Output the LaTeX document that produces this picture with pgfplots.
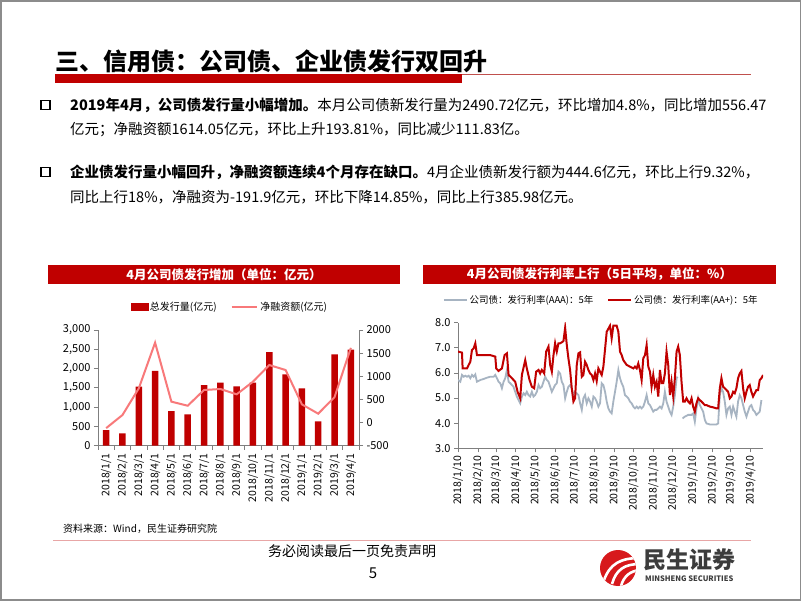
\documentclass[border=0pt]{standalone}
\usepackage{fontspec}
\setmainfont{Noto Sans CJK SC}
\usepackage{pgfplots}
\pgfplotsset{compat=1.18}
\definecolor{bred}{HTML}{C00000}
\definecolor{pinkl}{HTML}{F8797A}
\definecolor{grayl}{HTML}{A7B4C2}
\definecolor{axgray}{HTML}{7F7F7F}
\definecolor{framec}{HTML}{8C8C8C}
\definecolor{thinred}{HTML}{C0504D}
\definecolor{pinkrule}{HTML}{E8A6A6}
\definecolor{logored}{HTML}{D7191C}
\definecolor{logotext}{HTML}{3C3C3C}
\newcommand{\fs}[1]{\fontsize{#1}{#1}\selectfont}
\begin{document}
\begin{tikzpicture}[x=1pt,y=1pt]
\useasboundingbox (0,0) rectangle (802,602);
\fill[white] (0,0) rectangle (802,602);
\draw[framec, line width=1.2pt] (1,2) rectangle (800.5,601);
% title
\node[anchor=west, inner sep=0] at (55,541) {\fs{24}\bfseries 三、信用债：公司债、企业债发行双回升};
\fill[bred] (55,519) rectangle (462,528);
\draw[thinred, line width=1.2pt] (462,527.5) -- (751,527.5);
% bullets
\draw[line width=1.6pt] (41,492.5) rectangle (50,501.5);
\node[anchor=west, inner sep=0] at (70,497) {\fs{14.5}\bfseries 2019年4月，公司债发行量小幅增加。\mdseries 本月公司债新发行量为2490.72亿元，环比增加4.8\%，同比增加556.47};
\node[anchor=west, inner sep=0] at (70,472) {\fs{14.5}亿元；净融资额1614.05亿元，环比上升193.81\%，同比减少111.83亿。};
\draw[line width=1.6pt] (41,425.5) rectangle (50,434.5);
\node[anchor=west, inner sep=0] at (70,430) {\fs{14.5}\bfseries 企业债发行量小幅回升，净融资额连续4个月存在缺口。\mdseries 4月企业债新发行额为444.6亿元，环比上行9.32\%，};
\node[anchor=west, inner sep=0] at (70,405) {\fs{14.5}同比上行18\%，净融资为-191.9亿元，环比下降14.85\%，同比上行385.98亿元。};
% chart title bars
\fill[bred] (48,318) rectangle (400,337);
\node[white] at (224,327.5) {\fs{12.5}\bfseries 4月公司债发行增加（单位：亿元）};
\fill[bred] (423,318) rectangle (776,337);
\node[white] at (599.5,327.5) {\fs{12.5}\bfseries 4月公司债发行利率上行（5日平均，单位：\%）};
% left chart
\begin{axis}[at={(98pt,156.3pt)}, anchor=south west, scale only axis,
  width=261pt, height=115.7pt,
  xmin=-0.5, xmax=15.5, ymin=0, ymax=3000,
  axis y line*=left, axis x line*=bottom,
  axis line style={axgray, line width=0.8pt},
  tick align=outside, tick style={axgray, line width=0.8pt},
  major tick length=4pt, minor tick length=4pt,
  ytick={0,500,...,3000},
  xtick={0,...,15},
  xticklabels={2018/1/1,2018/2/1,2018/3/1,2018/4/1,2018/5/1,2018/6/1,2018/7/1,2018/8/1,2018/9/1,2018/10/1,2018/11/1,2018/12/1,2019/1/1,2019/2/1,2019/3/1,2019/4/1},
  major x tick style={draw=none},
  minor xtick={-0.5,0.5,...,15.5},
  x tick label style={rotate=90, anchor=east, font=\fs{10.5}},
  y tick label style={font=\fs{11}},
  /pgf/number format/assume math mode=true,
  /pgf/number format/1000 sep={,},
  ybar, bar width=6.5pt,
]
\addplot[fill=bred, draw=none] coordinates {
(0,406) (1,320) (2,1530) (3,1937) (4,899) (5,813) (6,1573) (7,1634)
(8,1539) (9,1634) (10,2429) (11,1850) (12,1487) (13,631) (14,2369) (15,2491)};
\end{axis}
\begin{axis}[at={(98pt,156.3pt)}, anchor=south west, scale only axis,
  width=261pt, height=115.7pt,
  xmin=-0.5, xmax=15.5, ymin=-500, ymax=2000,
  axis y line*=right, axis x line=none,
  axis line style={axgray, line width=0.8pt},
  tick align=outside, tick style={axgray, line width=0.8pt},
  major tick length=4pt,
  ytick={-500,0,...,2000},
  y tick label style={font=\fs{11}},
  /pgf/number format/assume math mode=true,
  /pgf/number format/1000 sep={},
  legend columns=2,
  legend style={at={(0.505,1)}, anchor=south, yshift=14pt, draw=none, fill=none,
    font=\fs{10}, /tikz/every even column/.append style={column sep=12pt}},
]
\addlegendimage{legend image code/.code={\fill[bred] (0cm,-0.12cm) rectangle (0.6cm,0.12cm);}}
\addlegendentry{总发行量(亿元)}
\addplot[pinkl, line width=2pt, legend image code/.code={\draw[pinkl, line width=2pt] (0cm,0cm) -- (0.9cm,0cm);}] coordinates {
(0,-120) (1,163) (2,739) (3,1726) (4,451) (5,364) (6,703) (7,725)
(8,610) (9,883) (10,1243) (11,1135) (12,393) (13,192) (14,549) (15,1614)};
\addlegendentry{净融资额(亿元)}
\end{axis}
% right chart
\begin{axis}[at={(458pt,153.7pt)}, anchor=south west, scale only axis,
  width=305pt, height=125.6pt,
  xmin=0, xmax=474.6, ymin=3, ymax=8,
  axis y line*=left, axis x line*=bottom,
  axis line style={axgray, line width=0.8pt},
  tick align=outside, tick style={axgray, line width=0.8pt},
  major tick length=4pt,
  ytick={3,4,...,8},
  yticklabel style={font=\fs{11}, /pgf/number format/.cd, fixed, fixed zerofill, precision=1},
  xtick={0,31,59,90,120,151,181,212,243,273,304,334,365,396,424,455},
  xticklabels={2018/1/10,2018/2/10,2018/3/10,2018/4/10,2018/5/10,2018/6/10,2018/7/10,2018/8/10,2018/9/10,2018/10/10,2018/11/10,2018/12/10,2019/1/10,2019/2/10,2019/3/10,2019/4/10},
  x tick label style={rotate=90, anchor=east, font=\fs{10.5}},
  /pgf/number format/assume math mode=true,
  unbounded coords=jump,
  legend columns=2,
  legend style={at={(0.47,1)}, anchor=south, yshift=14pt, draw=none, fill=none,
    font=\fs{9.5}, /tikz/every even column/.append style={column sep=12pt}},
]
\addplot[grayl, line width=1.8pt, legend image code/.code={\draw[grayl, line width=1.8pt] (0cm,0cm) -- (0.8cm,0cm);}] table {
x y
0 5.72
3.6 5.65
6.2 5.92
8.8 5.85
11.4 5.89
14.0 5.85
16.6 5.89
19.2 5.79
21.7 5.92
24.3 5.85
26.9 5.94
29.5 5.65
34.7 5.72
39.9 5.76
45.0 5.81
50.2 5.85
55.4 5.85
58.0 5.92
60.6 5.79
63.1 5.65
65.7 5.59
68.3 5.39
70.9 5.65
73.5 5.79
76.1 6.12
78.7 5.65
81.3 5.59
83.9 5.52
86.4 5.45
89.0 5.25
91.6 5.06
94.2 4.92
96.8 4.79
99.4 5.06
102.0 5.19
104.6 5.12
107.1 5.25
109.7 5.12
112.3 5.06
114.9 5.25
117.5 5.06
120.1 5.12
122.7 5.25
125.3 5.52
127.8 5.39
130.4 5.45
133.0 5.65
135.6 5.85
138.2 5.72
140.8 5.65
143.4 5.45
146.0 5.25
148.6 5.39
151.1 5.52
153.7 5.59
156.3 6.05
158.9 5.98
161.5 5.65
164.1 5.52
166.7 4.99
169.3 5.25
171.8 5.45
174.4 5.52
177.0 5.39
179.6 5.12
182.2 5.25
184.8 5.19
187.4 5.12
190.0 4.79
192.6 4.53
195.1 4.99
197.7 5.12
200.3 4.79
202.9 4.99
205.5 4.86
208.1 4.66
210.7 5.06
213.3 4.99
215.8 4.86
218.4 4.66
221.0 4.79
223.6 5.59
226.2 5.52
228.8 5.25
231.4 4.86
233.9 4.59
236.5 4.46
239.1 4.39
241.7 4.86
244.3 5.25
246.9 5.65
249.5 6.12
252.1 5.79
254.7 5.59
257.2 5.45
259.8 5.12
262.4 5.06
265.0 4.99
267.6 4.86
270.2 4.79
272.8 4.66
275.4 4.59
278.0 4.66
280.5 4.59
283.1 4.66
285.7 4.59
288.3 4.66
290.9 4.86
293.5 5.12
296.1 4.79
298.7 4.72
301.2 4.59
303.8 4.46
306.4 4.53
309.0 4.53
311.6 4.59
314.2 4.66
316.8 4.59
319.4 4.79
321.9 5.25
324.5 4.86
327.1 4.66
329.7 4.46
332.3 4.33
334.9 4.66
337.5 5.12
340.1 5.79
341.6 5.85
345.0 nan
349.4 4.19
353.0 4.26
358.2 4.33
363.4 4.33
365.9 4.39
368.5 4.06
371.1 4.59
373.7 4.99
376.3 4.72
378.9 4.59
381.5 4.46
384.1 4.13
386.7 3.99
391.8 3.95
397.0 3.95
402.2 3.95
404.8 3.99
407.4 5.12
409.9 5.39
412.5 5.25
415.1 4.86
417.7 4.33
420.3 4.59
422.9 4.66
425.5 4.33
428.1 4.66
430.6 4.46
433.2 4.26
435.8 4.86
438.4 5.12
441.0 4.99
443.6 4.72
446.2 4.46
448.8 4.26
451.3 4.46
453.9 4.66
456.5 4.72
459.1 4.53
461.7 4.46
464.3 4.33
466.9 4.39
469.5 4.46
472.1 4.92
};
\addlegendentry{公司债：发行利率(AAA)：5年}
\addplot[bred, line width=2pt, legend image code/.code={\draw[bred, line width=2pt] (0cm,0cm) -- (0.8cm,0cm);}] table {
x y
0 6.85
6.2 6.81
7.2 6.18
14.0 6.18
16.6 6.32
19.2 6.45
21.7 6.91
24.3 6.98
26.9 7.18
29.5 6.71
50.2 6.71
58.0 6.65
59.5 6.18
63.1 6.08
68.3 6.18
72.5 6.71
76.1 6.78
78.7 5.92
83.9 5.79
89.0 5.65
92.7 5.25
96.8 4.99
99.4 5.92
104.6 6.51
107.1 6.18
111.3 5.72
114.9 5.45
118.5 5.39
121.6 6.05
125.3 6.12
127.8 5.98
130.4 6.12
134.1 5.98
137.2 6.85
140.8 7.05
143.4 6.32
146.0 6.05
148.6 6.71
151.1 7.18
153.7 6.85
156.3 7.18
158.9 7.18
161.5 7.22
164.1 7.27
166.7 7.80
169.3 7.11
171.8 6.58
174.4 6.12
177.0 5.39
179.6 4.86
182.2 4.99
184.8 6.32
187.4 6.78
190.0 6.82
192.6 5.85
195.1 5.92
197.7 6.45
200.3 6.32
202.9 6.12
205.5 5.98
208.1 5.92
210.7 5.72
213.3 5.98
215.8 5.68
218.4 6.18
221.0 6.05
223.6 5.92
226.2 6.25
231.4 7.64
236.5 7.88
239.1 7.38
241.7 7.88
246.9 7.88
249.5 7.64
252.1 6.85
254.7 6.71
257.2 6.51
262.4 6.32
267.6 6.25
272.8 6.18
275.4 6.25
278.0 6.18
280.5 6.38
283.1 6.12
285.7 5.72
288.3 6.58
290.9 6.71
293.5 7.11
296.1 6.25
298.7 6.05
301.2 5.45
303.8 5.92
306.4 5.45
309.0 5.65
311.6 5.06
314.2 6.12
316.8 5.59
319.4 5.59
321.9 5.98
324.5 6.85
327.1 6.32
329.7 5.12
332.3 5.65
334.9 5.06
337.5 5.79
340.1 6.85
342.6 7.05
345.2 6.71
347.8 5.65
350.4 4.86
353.0 4.86
355.6 4.99
358.2 4.86
360.8 4.79
363.4 4.99
365.9 4.66
368.5 4.46
371.1 4.79
373.7 4.99
376.3 4.92
378.9 4.86
381.5 4.79
384.1 4.72
386.7 4.72
391.8 4.66
397.0 4.63
402.2 4.59
404.8 4.59
407.4 5.39
409.9 5.79
412.5 5.45
415.1 5.39
417.7 5.32
420.3 5.25
422.9 4.99
425.5 5.06
428.1 5.25
430.6 5.19
433.2 5.39
435.8 5.79
438.4 5.98
441.0 6.08
443.6 5.39
446.2 4.99
448.8 5.25
451.3 5.45
453.9 5.52
456.5 5.25
459.1 5.06
461.7 5.19
464.3 5.32
466.9 5.32
469.5 5.72
472.1 5.79
474.6 5.92
};
\addlegendentry{公司债：发行利率(AA+)：5年}
\end{axis}
% footer
\node[anchor=west, inner sep=0] at (63,73) {\fs{10}资料来源：Wind，民生证券研究院};
\draw[pinkrule, line width=1pt] (53,62) -- (751,62);
\node[inner sep=0] at (352,51) {\fs{14}务必阅读最后一页免责声明};
\node[inner sep=0] at (373,29) {\fs{15}5};
% logo
\begin{scope}
\fill[logored] (618,34) circle (18);
\clip (618,34) circle (18);
\draw[white, line width=2.6pt] (604,22) .. controls (610,38) and (620,44) .. (640,44);
\draw[white, line width=2.6pt] (612,18) .. controls (616,32) and (624,38) .. (640,38);
\draw[white, line width=2.6pt] (621,16) .. controls (624,26) and (630,31) .. (640,32);
\end{scope}
\node[anchor=west, inner sep=0] at (643,42) {\fs{23}\bfseries\color{logotext}民生证券};
\node[anchor=west, inner sep=0] at (645,23) {\fs{7.5}\bfseries\color{logotext}MINSHENG SECURITIES};
\end{tikzpicture}
\end{document}
